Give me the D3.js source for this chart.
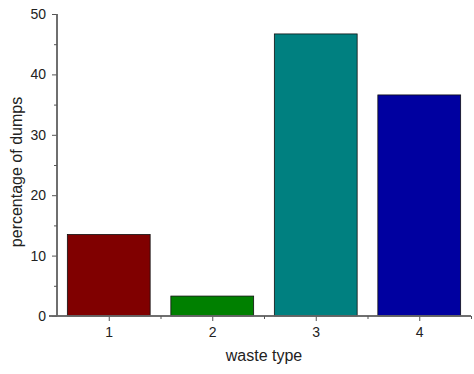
<!DOCTYPE html>
<html>
<head>
<meta charset="utf-8">
<script src="https://cdn.jsdelivr.net/npm/d3@7/dist/d3.min.js"></script>
<style>
  body { margin: 0; background: #fff; }
  text { font-family: "Liberation Sans", Arial, sans-serif; fill: #222; }
</style>
</head>
<body>
<svg id="chart" width="474" height="374"></svg>
<script>
// data
const categories = [1, 2, 3, 4];
const percentages = [13.5, 3.3, 46.7, 36.6];
const barColors = ["#800000", "#008000", "#008080", "#0000a0"];
const yTicks = [0, 10, 20, 30, 40, 50];

const svg = d3.select("#chart"),
  margin = {top: 14, right: 3, bottom: 58, left: 57},
  width = 474 - margin.left - margin.right,
  height = 374 - margin.top - margin.bottom;

const g = svg.append("g").attr("transform", "translate(" + margin.left + "," + margin.top + ")");

const x = d3.scaleLinear().domain([0.5, 4.5]).range([0, width]);
const y = d3.scaleLinear().domain([0, 50]).range([height, 0]);
const bw = (x(2) - x(1)) * 0.8;

// bars
g.selectAll("rect.bar")
  .data(percentages)
  .enter().append("rect")
    .attr("class", "bar")
    .attr("x", (d, i) => x(categories[i]) - bw / 2)
    .attr("y", d => y(d))
    .attr("width", bw)
    .attr("height", d => y(0) - y(d))
    .attr("fill", (d, i) => barColors[i])
    .attr("stroke", "#111")
    .attr("stroke-width", 0.8);

// y axis
const yAxis = g.append("g").call(d3.axisLeft(y).tickValues(yTicks).tickSize(5).tickPadding(6));
yAxis.append("g").call(d3.axisLeft(y).tickValues([5, 15, 25, 35, 45]).tickSize(3).tickFormat(""));

// x axis
const xAxis = g.append("g").attr("transform", "translate(0," + height + ")")
  .call(d3.axisBottom(x).tickValues(categories).tickFormat(d3.format("d")).tickSize(5).tickPadding(6));
xAxis.append("g").call(d3.axisBottom(x).tickValues([1.5, 2.5, 3.5, 4.5]).tickSize(3).tickFormat(""));

svg.selectAll(".domain").attr("stroke", "#666").attr("stroke-width", 1.5);
svg.selectAll(".tick line").attr("stroke", "#555");
svg.selectAll(".tick text").style("font-size", "14px").attr("fill", "#222");
xAxis.selectAll(".domain").attr("d", "M-8,0H" + width);
yAxis.selectAll(".domain").attr("d", "M0,0V" + height);

// axis titles
svg.append("text")
  .attr("x", margin.left + width / 2)
  .attr("y", 361)
  .attr("text-anchor", "middle")
  .style("font-size", "16px")
  .text("waste type");

svg.append("text")
  .attr("transform", "translate(22,172) rotate(-90)")
  .attr("text-anchor", "middle")
  .style("font-size", "16px")
  .text("percentage of dumps");
</script>
</body>
</html>
